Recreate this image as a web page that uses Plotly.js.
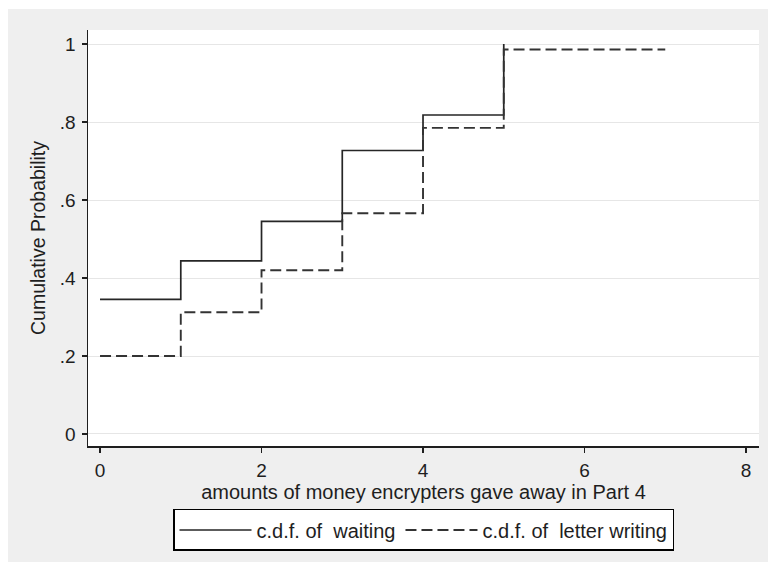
<!DOCTYPE html>
<html>
<head>
<meta charset="utf-8">
<script src="https://cdn.plot.ly/plotly-3.0.1.min.js"></script>
<style>
  html, body { margin: 0; padding: 0; background: #ffffff; }
  #chart { position: absolute; left: 8px; top: 9px; width: 760px; height: 553px; }
</style>
</head>
<body>
<div id="chart"></div>
<script>
// Amounts given away (x) and cumulative probabilities for each treatment
const amountsWaiting = [0, 1, 2, 3, 4, 5];
const cdfWaiting = [0.345, 0.444, 0.545, 0.727, 0.818, 1.0];

const amountsLetter = [0, 1, 2, 3, 4, 5, 7];
const cdfLetter = [0.200, 0.312, 0.420, 0.566, 0.785, 0.986, 0.986];

const yTickVals = [0, 0.2, 0.4, 0.6, 0.8, 1];
const yTickText = ['0', '.2', '.4', '.6', '.8', '1'];
const xTickVals = [0, 2, 4, 6, 8];

const seriesNames = ['c.d.f. of  waiting', 'c.d.f. of  letter writing'];

const FONT = 'Liberation Sans, Arial, Helvetica, sans-serif';
const INK = '#1e1e1e';

const traces = [
  {
    x: amountsWaiting,
    y: cdfWaiting,
    name: seriesNames[0],
    type: 'scatter',
    mode: 'lines',
    line: { shape: 'hv', color: '#262626', width: 1.7 }
  },
  {
    x: amountsLetter,
    y: cdfLetter,
    name: seriesNames[1],
    type: 'scatter',
    mode: 'lines',
    line: { shape: 'hv', color: '#333333', width: 1.9, dash: '11px,5px' }
  }
];

const layout = {
  width: 760,
  height: 553,
  paper_bgcolor: '#efefef',
  plot_bgcolor: '#ffffff',
  margin: { l: 80, r: 9, t: 21, b: 116 },
  font: { family: FONT, size: 19, color: INK },
  showlegend: true,
  hovermode: false,
  xaxis: {
    range: [-0.149, 8.161],
    tickvals: xTickVals,
    ticks: 'outside',
    ticklen: 5,
    tickwidth: 1.5,
    tickcolor: INK,
    ticklabelstandoff: 2,
    showline: true,
    linecolor: INK,
    linewidth: 1.5,
    showgrid: false,
    zeroline: false,
    tickfont: { family: FONT, size: 19, color: INK },
    title: {
      text: 'amounts of money encrypters gave away in Part 4',
      font: { family: FONT, size: 20, color: INK },
      standoff: 3
    }
  },
  yaxis: {
    range: [-0.0308, 1.036],
    tickvals: yTickVals,
    ticktext: yTickText,
    ticks: 'outside',
    ticklen: 5,
    tickwidth: 1.5,
    tickcolor: INK,
    ticklabelstandoff: 2,
    showline: true,
    linecolor: INK,
    linewidth: 1.5,
    showgrid: true,
    gridcolor: '#e6e6e6',
    gridwidth: 1,
    zeroline: false,
    tickfont: { family: FONT, size: 19, color: INK },
    title: {
      text: 'Cumulative Probability',
      font: { family: FONT, size: 19.5, color: INK },
      standoff: 9
    }
  },
  legend: {
    orientation: 'h',
    x: 0.5,
    xanchor: 'center',
    xref: 'paper',
    y: -0.1514,
    yanchor: 'top',
    bgcolor: '#ffffff',
    bordercolor: '#000000',
    borderwidth: 1.5,
    itemwidth: 72,
    font: { family: FONT, size: 20, color: INK }
  }
};

Plotly.newPlot('chart', traces, layout, { staticPlot: true, displayModeBar: false });
</script>
</body>
</html>
